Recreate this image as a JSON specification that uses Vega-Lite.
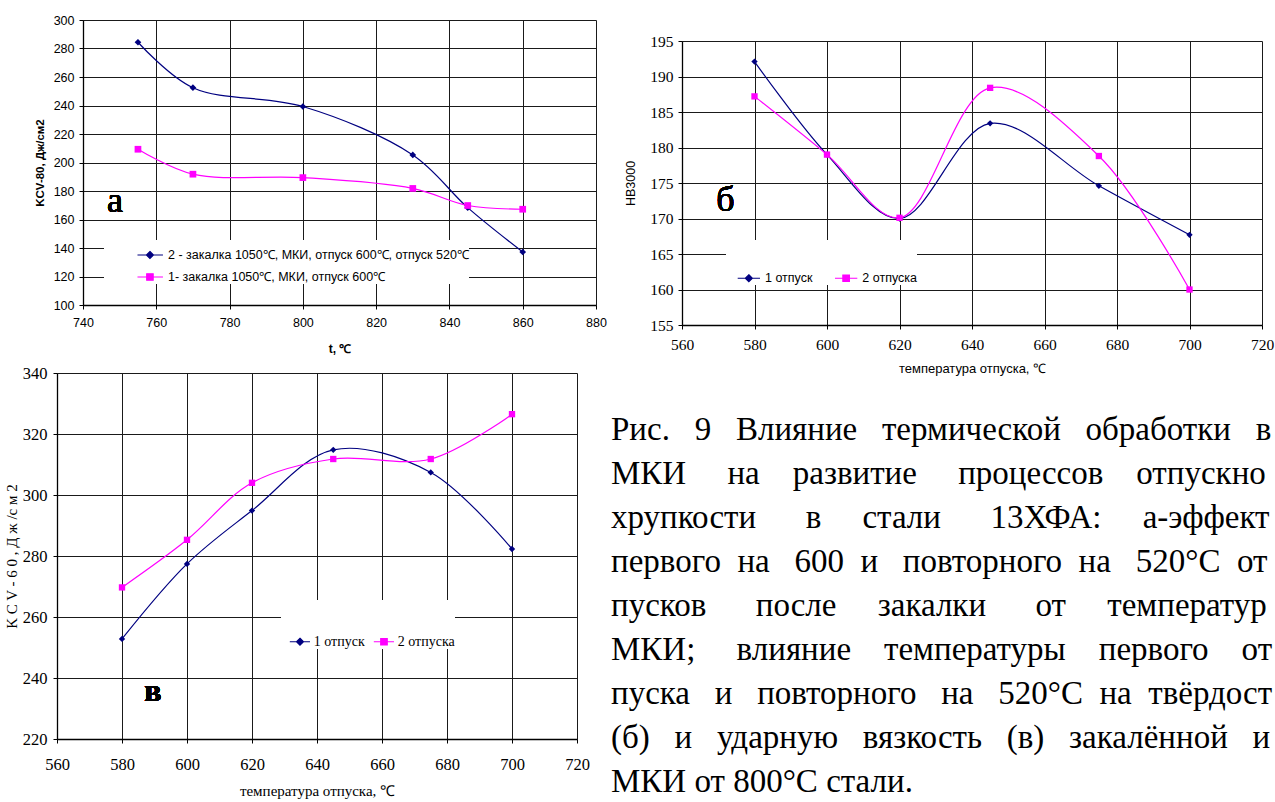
{
  "$schema": "https://vega.github.io/schema/vega-lite/v6.json",
  "width": 1275,
  "height": 802,
  "padding": 0,
  "autosize": {"type": "none"},
  "background": "white",
  "config": {
    "view": {"stroke": null},
    "axis": {
      "domainColor": "#000", "domainWidth": 1.3, "tickColor": "#000", "tickSize": 4, "tickWidth": 1,
      "gridColor": "#1a1a1a", "gridWidth": 1, "gridOpacity": 1,
      "labelColor": "#000", "titleColor": "#000", "labelFont": "Liberation Sans", "titleFont": "Liberation Sans",
      "labelFlush": false, "labelOverlap": false, "titleFontWeight": "normal"
    },
    "legend": {"labelFont": "Liberation Sans", "labelColor": "#000", "labelLimit": 0, "title": null}
  },
  "datasets": {
    "a": [
      {"t": 755, "v": 284.4, "s": "2 - закалка 1050℃, МКИ, отпуск 600℃, отпуск 520℃"},
      {"t": 770, "v": 252.5, "s": "2 - закалка 1050℃, МКИ, отпуск 600℃, отпуск 520℃"},
      {"t": 800, "v": 239.3, "s": "2 - закалка 1050℃, МКИ, отпуск 600℃, отпуск 520℃"},
      {"t": 830, "v": 205.3, "s": "2 - закалка 1050℃, МКИ, отпуск 600℃, отпуск 520℃"},
      {"t": 845, "v": 168.3, "s": "2 - закалка 1050℃, МКИ, отпуск 600℃, отпуск 520℃"},
      {"t": 860, "v": 137.2, "s": "2 - закалка 1050℃, МКИ, отпуск 600℃, отпуск 520℃"},
      {"t": 755, "v": 209.3, "s": "1- закалка 1050℃, МКИ,  отпуск 600℃"},
      {"t": 770, "v": 191.8, "s": "1- закалка 1050℃, МКИ,  отпуск 600℃"},
      {"t": 800, "v": 189.4, "s": "1- закалка 1050℃, МКИ,  отпуск 600℃"},
      {"t": 830, "v": 181.8, "s": "1- закалка 1050℃, МКИ,  отпуск 600℃"},
      {"t": 845, "v": 169.8, "s": "1- закалка 1050℃, МКИ,  отпуск 600℃"},
      {"t": 860, "v": 167.2, "s": "1- закалка 1050℃, МКИ,  отпуск 600℃"}
    ],
    "b": [
      {"t": 580, "v": 192.1, "s": "1 отпуск"},
      {"t": 600, "v": 179.0, "s": "1 отпуск"},
      {"t": 620, "v": 170.0, "s": "1 отпуск"},
      {"t": 645, "v": 183.4, "s": "1 отпуск"},
      {"t": 675, "v": 174.6, "s": "1 отпуск"},
      {"t": 700, "v": 167.7, "s": "1 отпуск"},
      {"t": 580, "v": 187.2, "s": "2 отпуска"},
      {"t": 600, "v": 179.0, "s": "2 отпуска"},
      {"t": 620, "v": 170.1, "s": "2 отпуска"},
      {"t": 645, "v": 188.4, "s": "2 отпуска"},
      {"t": 675, "v": 178.8, "s": "2 отпуска"},
      {"t": 700, "v": 160.0, "s": "2 отпуска"}
    ],
    "c": [
      {"t": 580, "v": 252.8, "s": "1 отпуск"},
      {"t": 600, "v": 277.4, "s": "1 отпуск"},
      {"t": 620, "v": 294.9, "s": "1 отпуск"},
      {"t": 645, "v": 314.8, "s": "1 отпуск"},
      {"t": 675, "v": 307.4, "s": "1 отпуск"},
      {"t": 700, "v": 282.3, "s": "1 отпуск"},
      {"t": 580, "v": 269.7, "s": "2 отпуска"},
      {"t": 600, "v": 285.3, "s": "2 отпуска"},
      {"t": 620, "v": 304.0, "s": "2 отпуска"},
      {"t": 645, "v": 311.8, "s": "2 отпуска"},
      {"t": 675, "v": 311.8, "s": "2 отпуска"},
      {"t": 700, "v": 326.5, "s": "2 отпуска"}
    ],
    "cap": [
      {"line": 1, "text": "Рис. \u00a0\u00a09 \u00a0\u00a0Влияние \u00a0\u00a0термической \u00a0\u00a0обработки \u00a0\u00a0в"},
      {"line": 2, "text": "МКИ \u00a0\u00a0\u00a0\u00a0на \u00a0\u00a0\u00a0развитие \u00a0\u00a0\u00a0\u00a0процессов \u00a0\u00a0\u00a0отпускной"},
      {"line": 3, "text": "хрупкости \u00a0\u00a0\u00a0\u00a0\u00a0в \u00a0\u00a0\u00a0\u00a0стали \u00a0\u00a0\u00a0\u00a0\u00a013ХФА: \u00a0\u00a0\u00a0\u00a0а-эффекты"},
      {"line": 4, "text": "первого \u00a0на \u00a0\u00a0600 \u00a0и \u00a0\u00a0повторного \u00a0на \u00a0\u00a0520°С \u00a0от-"},
      {"line": 5, "text": "пусков \u00a0\u00a0\u00a0\u00a0\u00a0после \u00a0\u00a0\u00a0\u00a0закалки \u00a0\u00a0\u00a0\u00a0\u00a0от \u00a0\u00a0\u00a0\u00a0температуры"},
      {"line": 6, "text": "МКИ; \u00a0\u00a0\u00a0\u00a0влияние \u00a0\u00a0\u00a0температуры \u00a0\u00a0\u00a0первого \u00a0\u00a0\u00a0от-"},
      {"line": 7, "text": "пуска \u00a0\u00a0и \u00a0\u00a0повторного \u00a0\u00a0на \u00a0\u00a0520°С \u00a0на \u00a0твёрдость"},
      {"line": 8, "text": "(б) \u00a0\u00a0и \u00a0\u00a0ударную \u00a0\u00a0вязкость \u00a0\u00a0(в) \u00a0\u00a0закалённой \u00a0\u00a0из"},
      {"line": 9, "text": "МКИ от 800°С стали."}
    ]
  },
  "layer": [
    {
      "data": {"name": "a"},
      "resolve": {"axis": {"x": "independent", "y": "independent"}},
      "layer": [
        {
          "mark": {"type": "line", "interpolate": "catmull-rom", "strokeWidth": 1.2},
          "encoding": {
            "x": {"field": "t", "type": "quantitative",
              "scale": {"domain": [740, 880], "range": [83, 596], "nice": false, "zero": false},
              "axis": {"orient": "bottom", "offset": -497, "values": [740, 760, 780, 800, 820, 840, 860, 880], "grid": false,
                "labelFontSize": 12.5, "labelPadding": 7, "title": "t, ℃", "titleFontSize": 12, "titleFontWeight": "bold", "titlePadding": 15}},
            "y": {"field": "v", "type": "quantitative",
              "scale": {"domain": [100, 300], "range": [305, 20], "nice": false, "zero": false},
              "axis": {"orient": "left", "offset": -83, "values": [100, 120, 140, 160, 180, 200, 220, 240, 260, 280, 300], "grid": true,
                "labelFontSize": 12.5, "labelPadding": 5, "title": "KCV-80, Дж/см2", "titleFontSize": 11.5, "titleFontWeight": "bold", "titlePadding": 8}},
            "color": {"field": "s", "type": "nominal",
              "scale": {"domain": ["2 - закалка 1050℃, МКИ, отпуск 600℃, отпуск 520℃", "1- закалка 1050℃, МКИ,  отпуск 600℃"], "range": ["#000080", "#ff00ff"]},
              "legend": {"orient": "none", "legendX": 104, "legendY": 240, "direction": "vertical", "fillColor": "white",
                "padding": 0, "rowPadding": 0, "symbolSize": 784, "labelOffset": 34, "labelFontSize": 12.5,
                "encode": {"symbols": {"update": {
                  "shape": [{"test": "datum.index === 0", "value": "M1.32,0H3.14M2.21,-0.25L2.46,0L2.21,0.25L1.96,0Z"}, {"value": "M1.32,0H3.14M1.98,-0.23H2.44V0.23H1.98Z"}],
                  "fill": [{"test": "datum.index === 0", "value": "#000080"}, {"value": "#ff00ff"}],
                  "stroke": [{"test": "datum.index === 0", "value": "#000080"}, {"value": "#ff00ff"}],
                  "strokeWidth": {"value": 1.2}, "opacity": {"value": 1}}}}}}
          }
        },
        {
          "mark": {"type": "point", "filled": true, "opacity": 1},
          "encoding": {
            "x": {"field": "t", "type": "quantitative",
              "axis": {"orient": "top", "grid": true, "values": [740, 760, 780, 800, 820, 840, 860, 880], "labels": false, "ticks": false, "domain": false, "title": null}},
            "y": {"field": "v", "type": "quantitative", "axis": null},
            "color": {"field": "s", "type": "nominal"},
            "shape": {"field": "s", "type": "nominal", "scale": {"range": ["square", "diamond"]}, "legend": null},
            "size": {"value": 45}
          }
        },
        {
          "mark": {"type": "text", "text": "а", "font": "Liberation Serif", "fontSize": 36, "baseline": "alphabetic", "align": "center", "fill": "#000"},
          "encoding": {
            "x": {"datum": 748.7, "type": "quantitative", "axis": null},
            "y": {"datum": 165.3, "type": "quantitative", "axis": null}
          }
        }
      ]
    },
    {
      "data": {"name": "b"},
      "resolve": {"axis": {"x": "independent", "y": "independent"}},
      "layer": [
        {
          "mark": {"type": "line", "interpolate": "catmull-rom", "strokeWidth": 1.2},
          "encoding": {
            "x": {"field": "t", "type": "quantitative",
              "scale": {"domain": [560, 720], "range": [682, 1262], "nice": false, "zero": false},
              "axis": {"orient": "bottom", "offset": -477, "values": [560, 580, 600, 620, 640, 660, 680, 700, 720], "grid": false,
                "labelFont": "Liberation Sans Narrow", "labelFontSize": 15.5, "labelPadding": 8, "title": "температура отпуска, ℃", "titleFontSize": 13, "titlePadding": 10}},
            "y": {"field": "v", "type": "quantitative",
              "scale": {"domain": [155, 195], "range": [325, 41], "nice": false, "zero": false},
              "axis": {"orient": "left", "offset": -682, "values": [155, 160, 165, 170, 175, 180, 185, 190, 195], "grid": true,
                "labelFont": "Liberation Sans Narrow", "labelFontSize": 15.5, "labelPadding": 5, "title": "HB3000", "titleFontSize": 12.5, "titlePadding": 12}},
            "color": {"field": "s", "type": "nominal",
              "scale": {"domain": ["1 отпуск", "2 отпуска"], "range": ["#000080", "#ff00ff"]},
              "legend": {"orient": "none", "legendX": 726, "legendY": 240, "direction": "horizontal", "fillColor": "white",
                "padding": 0, "columnPadding": 10.3, "symbolSize": 5476, "labelOffset": -37, "labelFontSize": 12.5,
                "encode": {"symbols": {"update": {
                  "shape": [{"test": "datum.index === 0", "value": "M-0.711,0H-0.108M-0.41,-0.095L-0.315,0L-0.41,0.095L-0.505,0Z"}, {"value": "M-0.711,0H-0.108M-0.498,-0.088H-0.322V0.088H-0.498Z"}],
                  "fill": [{"test": "datum.index === 0", "value": "#000080"}, {"value": "#ff00ff"}],
                  "stroke": [{"test": "datum.index === 0", "value": "#000080"}, {"value": "#ff00ff"}],
                  "strokeWidth": {"value": 1.2}, "opacity": {"value": 1}}}}}}
          }
        },
        {
          "mark": {"type": "point", "filled": true, "opacity": 1},
          "encoding": {
            "x": {"field": "t", "type": "quantitative",
              "axis": {"orient": "top", "grid": true, "values": [560, 580, 600, 620, 640, 660, 680, 700, 720], "labels": false, "ticks": false, "domain": false, "title": null}},
            "y": {"field": "v", "type": "quantitative", "axis": null},
            "color": {"field": "s", "type": "nominal"},
            "shape": {"field": "s", "type": "nominal", "scale": {"range": ["diamond", "square"]}, "legend": null},
            "size": {"value": 40}
          }
        },
        {
          "mark": {"type": "text", "text": "б", "font": "Liberation Serif", "fontSize": 36, "baseline": "alphabetic", "align": "center", "fill": "#000"},
          "encoding": {
            "x": {"datum": 572.0, "type": "quantitative", "axis": null},
            "y": {"datum": 171.0, "type": "quantitative", "axis": null}
          }
        }
      ]
    },
    {
      "data": {"name": "c"},
      "resolve": {"axis": {"x": "independent", "y": "independent"}},
      "layer": [
        {
          "mark": {"type": "line", "interpolate": "catmull-rom", "strokeWidth": 1.2},
          "encoding": {
            "x": {"field": "t", "type": "quantitative",
              "scale": {"domain": [560, 720], "range": [57, 577], "nice": false, "zero": false},
              "axis": {"orient": "bottom", "offset": -63, "values": [560, 580, 600, 620, 640, 660, 680, 700, 720], "grid": false,
                "labelFont": "Liberation Sans Narrow", "labelFontSize": 16.5, "labelPadding": 13, "title": "температура отпуска, ℃", "titleFont": "Liberation Sans Narrow", "titleFontSize": 15, "titlePadding": 11}},
            "y": {"field": "v", "type": "quantitative",
              "scale": {"domain": [220, 340], "range": [739, 373], "nice": false, "zero": false},
              "axis": {"orient": "left", "offset": -57, "values": [220, 240, 260, 280, 300, 320, 340], "grid": true,
                "labelFont": "Liberation Sans Narrow", "labelFontSize": 16.5, "labelPadding": 6, "title": "K C V - 6 0 , Д ж /с м 2", "titleFont": "Liberation Sans Narrow", "titleFontSize": 15, "titlePadding": 3}},
            "color": {"field": "s", "type": "nominal",
              "scale": {"domain": ["1 отпуск", "2 отпуска"], "range": ["#000080", "#ff00ff"]},
              "legend": {"orient": "none", "legendX": 281, "legendY": 600, "direction": "horizontal", "fillColor": "white",
                "padding": 0, "columnPadding": 0, "symbolSize": 6561, "labelOffset": -50.2, "labelFont": "Liberation Sans Narrow", "labelFontSize": 14,
                "encode": {"symbols": {"update": {
                  "shape": [{"test": "datum.index === 0", "value": "M-0.807,0H-0.309M-0.556,-0.086L-0.47,0L-0.556,0.086L-0.642,0Z"}, {"value": "M-0.807,0H-0.309M-0.636,-0.08H-0.476V0.08H-0.636Z"}],
                  "fill": [{"test": "datum.index === 0", "value": "#000080"}, {"value": "#ff00ff"}],
                  "stroke": [{"test": "datum.index === 0", "value": "#000080"}, {"value": "#ff00ff"}],
                  "strokeWidth": {"value": 1.2}, "opacity": {"value": 1}}}}}}
          }
        },
        {
          "mark": {"type": "point", "filled": true, "opacity": 1},
          "encoding": {
            "x": {"field": "t", "type": "quantitative",
              "axis": {"orient": "top", "grid": true, "values": [560, 580, 600, 620, 640, 660, 680, 700, 720], "labels": false, "ticks": false, "domain": false, "title": null}},
            "y": {"field": "v", "type": "quantitative", "axis": null},
            "color": {"field": "s", "type": "nominal"},
            "shape": {"field": "s", "type": "nominal", "scale": {"range": ["diamond", "square"]}, "legend": null},
            "size": {"value": 40}
          }
        },
        {
          "mark": {"type": "text", "text": "в", "font": "Liberation Serif", "fontSize": 32, "fontWeight": "bold", "baseline": "alphabetic", "align": "center", "fill": "#000"},
          "encoding": {
            "x": {"datum": 589.5, "type": "quantitative", "axis": null},
            "y": {"datum": 232.6, "type": "quantitative", "axis": null}
          }
        }
      ]
    },
    {
      "data": {"name": "cap"},
      "mark": {"type": "text", "align": "left", "baseline": "alphabetic", "font": "Liberation Serif", "fontSize": 33, "fill": "#000", "limit": 664, "ellipsis": "\u200b"},
      "encoding": {
        "x": {"datum": 0, "type": "quantitative", "scale": {"domain": [0, 1], "range": [611, 1275]}, "axis": null},
        "y": {"field": "line", "type": "quantitative", "scale": {"domain": [1, 9], "range": [440, 792], "nice": false, "zero": false}, "axis": null},
        "text": {"field": "text"}
      }
    }
  ],
  "resolve": {
    "scale": {"x": "independent", "y": "independent", "color": "independent", "shape": "independent"},
    "axis": {"x": "independent", "y": "independent"},
    "legend": {"color": "independent", "shape": "independent"}
  }
}
